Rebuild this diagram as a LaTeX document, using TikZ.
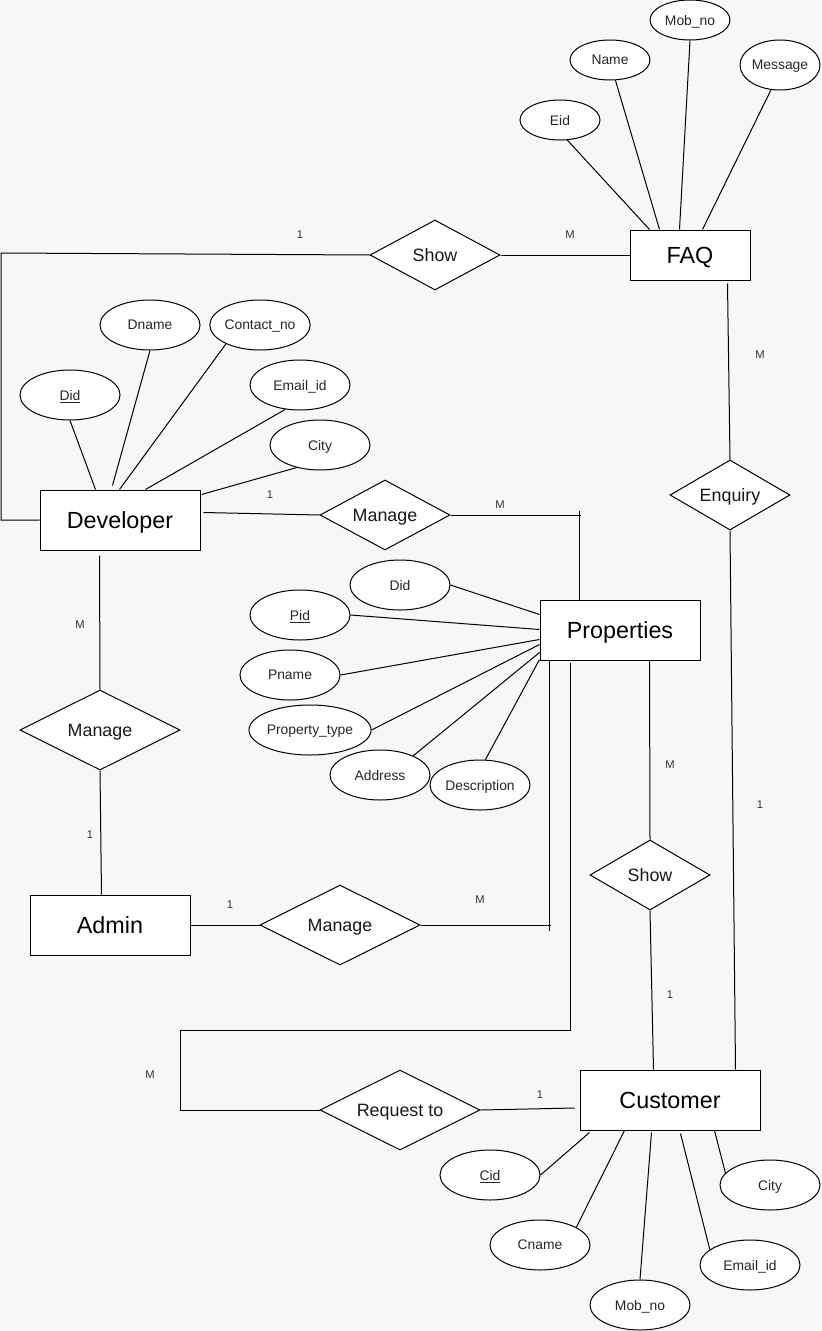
\documentclass[tikz,border=0pt]{standalone}
\usepackage{fontspec}
\setmainfont{Liberation Sans}
\usetikzlibrary{shapes.geometric,calc}
\definecolor{bg}{HTML}{F7F7F7}
\definecolor{lbl}{HTML}{333333}
\begin{document}
\begin{tikzpicture}[x=0.75pt,y=-0.75pt,
  conn/.style={draw=black,line width=0.75pt},
  entity/.style={draw=black,line width=0.75pt,fill=white,rectangle,inner sep=0pt,text depth=0pt,font=\fontsize{17.5}{20}\selectfont},
  rel/.style={draw=black,line width=0.75pt,fill=white,diamond,inner sep=0pt},
  relt/.style={font=\fontsize{13.4}{16}\selectfont,inner sep=0pt,text depth=0pt,text=black!90},
  attr/.style={draw=black,line width=0.75pt,fill=white,ellipse,inner sep=0pt,text depth=0pt,minimum width=75pt,minimum height=37.5pt,font=\fontsize{10.4}{12}\selectfont,text=black!85},
  card/.style={font=\fontsize{8.4}{10}\selectfont,text=lbl,inner sep=0pt}]
\fill[bg] (0,0) rectangle (821,1331);
\useasboundingbox (0,0) rectangle (821,1331);

% entities
\node[entity,minimum width=90pt,minimum height=37.5pt] (faq) at (690,255) {FAQ};
\node[entity,minimum width=120pt,minimum height=45pt] (dev) at (120,520) {Developer};
\node[entity,minimum width=120pt,minimum height=45pt] (prop) at (620,630) {Properties};
\node[entity,minimum width=120pt,minimum height=45pt] (admin) at (110,925) {Admin};
\node[entity,minimum width=135pt,minimum height=45pt] (cust) at (670,1100) {Customer};

% relationships
\node[rel,minimum width=97.5pt,minimum height=52.5pt,label={[relt]center:Show}] (show1) at (435,255) {};
\node[rel,minimum width=90pt,minimum height=52.5pt,label={[relt]center:Enquiry}] (enq) at (730,495) {};
\node[rel,minimum width=97.5pt,minimum height=52.5pt,label={[relt]center:Manage}] (man1) at (385,515) {};
\node[rel,minimum width=120pt,minimum height=60pt,label={[relt]center:Manage}] (man2) at (100,730) {};
\node[rel,minimum width=90pt,minimum height=52.5pt,label={[relt]center:Show}] (show2) at (650,875) {};
\node[rel,minimum width=120pt,minimum height=60pt,label={[relt]center:Manage}] (man3) at (340,925) {};
\node[rel,minimum width=120pt,minimum height=60pt,label={[relt]center:Request to}] (req) at (400,1110) {};

% FAQ attributes
\node[attr,minimum width=60pt,minimum height=30pt] (eid) at (560,120) {Eid};
\node[attr,minimum width=60pt,minimum height=30pt] (fname) at (610,60) {Name};
\node[attr,minimum width=60pt,minimum height=30pt] (fmob) at (690,20) {Mob\_no};
\node[attr,minimum width=60pt,minimum height=37.5pt] (fmsg) at (780,65) {Message};

% Developer attributes
\node[attr] (dname) at (150,325) {Dname};
\node[attr] (dcontact) at (260,325) {Contact\_no};
\node[attr] (ddid) at (70,395) {\underline{Did}};
\node[attr] (demail) at (300,385) {Email\_id};
\node[attr] (dcity) at (320,445) {City};

% Properties attributes
\node[attr] (pdid) at (400,585) {Did};
\node[attr] (ppid) at (300,615) {\underline{Pid}};
\node[attr] (pname) at (290,675) {Pname};
\node[attr] (ptype) at (310,730) {Property\_type};
\node[attr] (paddr) at (380,775) {Address};
\node[attr] (pdesc) at (480,785) {Description};

% Customer attributes
\node[attr] (cid) at (490,1175) {\underline{Cid}};
\node[attr] (cname) at (540,1245) {Cname};
\node[attr] (cmob) at (640,1305) {Mob\_no};
\node[attr] (cemail) at (750,1265) {Email\_id};
\node[attr] (ccity) at (770,1185) {City};

% attribute connectors
\draw[conn] (eid.290) -- ($(faq.north west)+(20,0)$);
\draw[conn] (fname.285) -- ($(faq.north west)+(30,0)$);
\draw[conn] (fmob.south) -- ($(faq.north west)+(50,0)$);
\draw[conn] (fmsg.250) -- ($(faq.north west)+(73,0)$);

\draw[conn] (ddid.south) -- ($(dev.north west)+(56,0)$);
\draw[conn] (dname.south) -- ($(dev.north west)+(73,-4)$);
\draw[conn] (dcontact.209) -- ($(dev.north west)+(80,0)$);
\draw[conn] (demail.239) -- ($(dev.north west)+(106,0)$);
\draw[conn] (dcity.224) -- ($(dev.north east)+(1,5)$);

\draw[conn] (pdid.east) -- ($(prop.north west)+(0,15)$);
\draw[conn] (ppid.east) -- ($(prop.north west)+(0,30)$);
\draw[conn] (pname.east) -- ($(prop.north west)+(0,40)$);
\draw[conn] (ptype.east) -- ($(prop.north west)+(0,45)$);
\draw[conn] (paddr.30) -- ($(prop.north west)+(0,53)$);
\draw[conn] (pdesc.78) -- ($(prop.north west)+(0,60)$);

\draw[conn] (cid.east) -- ($(cust.south west)+(10,2)$);
\draw[conn] (cname.26) -- ($(cust.south west)+(45,0)$);
\draw[conn] (cmob.north) -- ($(cust.south west)+(72,2)$);
\draw[conn] (cemail.159) -- ($(cust.south west)+(101,3)$);
\draw[conn] (ccity.165) -- ($(cust.south west)+(135,0)$);

% relationship connectors
\coordinate (s1a) at (1,253);
\coordinate (s1b) at (1,520);
\draw[conn] (show1.west) -- (s1a) -- (s1b) -- (dev.west);
\draw[conn] (show1.east) -- (faq.west);

\draw[conn] ($(faq.south west)+(98,3)$) -- (enq.north);
\draw[conn] (enq.south) -- ($(cust.north west)+(156,0)$);

\draw[conn] ($(dev.north east)+(3,23)$) -- (man1.west);
\draw[conn] (man1.east) -- ++(130,0);
\draw[conn] ($(prop.north west)+(40,0)$) -- ++(0,-89);

\draw[conn] ($(dev.south west)+(60,5)$) -- (man2.north);
\draw[conn] (man2.south) -- ($(admin.north west)+(72,0)$);

\draw[conn] (admin.east) -- (man3.west);
\draw[conn] (man3.east) -- ++(130,0);
\draw[conn] ($(prop.south west)+(10,0)$) -- ++(0,270);

\coordinate (rq1) at (180,1030);
\draw[conn] ($(prop.south west)+(31,2)$) |- (rq1) |- (req.west);
\draw[conn] (req.east) -- ($(cust.west)+(-5,8)$);

\draw[conn] ($(prop.south west)+(110,0)$) -- (show2.north);
\draw[conn] (show2.south) -- ($(cust.north west)+(74,0)$);

% cardinalities
\node[card] (k1) at (300,235) {1};
\node[card] (k2) at (570,235) {M};
\node[card] (k3) at (760,355) {M};
\node[card] (k4) at (270,495) {1};
\node[card] (k5) at (500,505) {M};
\node[card] (k6) at (80,625) {M};
\node[card] (k7) at (90,835) {1};
\node[card] (k8) at (230,905) {1};
\node[card] (k9) at (480,900) {M};
\node[card] (k10) at (670,765) {M};
\node[card] (k11) at (670,995) {1};
\node[card] (k12) at (760,805) {1};
\node[card] (k13) at (150,1075) {M};
\node[card] (k14) at (540,1095) {1};
\end{tikzpicture}
\end{document}
